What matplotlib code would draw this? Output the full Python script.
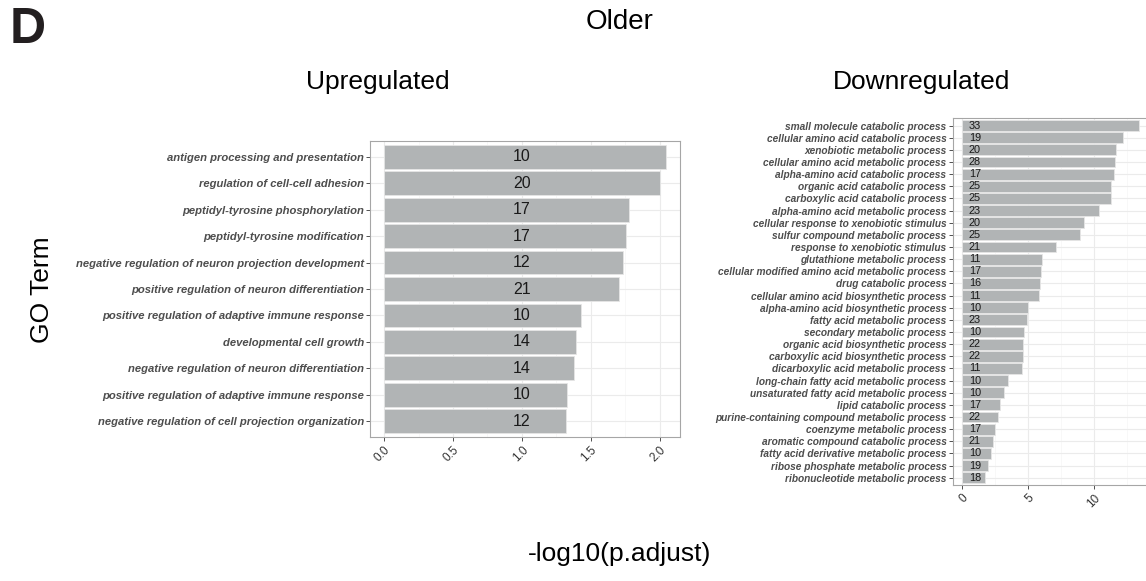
import numpy as np
import matplotlib
matplotlib.use("Agg")
import matplotlib.pyplot as plt
from matplotlib.ticker import MultipleLocator

plt.rcParams['font.family'] = ['Liberation Sans', 'DejaVu Sans']

# GO terms, -log10(p.adjust) and gene counts, top to bottom
up_terms = [
    "antigen processing and presentation",
    "regulation of cell-cell adhesion",
    "peptidyl-tyrosine phosphorylation",
    "peptidyl-tyrosine modification",
    "negative regulation of neuron projection development",
    "positive regulation of neuron differentiation",
    "positive regulation of adaptive immune response",
    "developmental cell growth",
    "negative regulation of neuron differentiation",
    "positive regulation of adaptive immune response",
    "negative regulation of cell projection organization",
]
up_vals = [2.045, 2.0, 1.779, 1.758, 1.731, 1.702, 1.430, 1.396, 1.379, 1.326, 1.319]
up_counts = [10, 20, 17, 17, 12, 21, 10, 14, 14, 10, 12]

down_terms = [
    "small molecule catabolic process",
    "cellular amino acid catabolic process",
    "xenobiotic metabolic process",
    "cellular amino acid metabolic process",
    "alpha-amino acid catabolic process",
    "organic acid catabolic process",
    "carboxylic acid catabolic process",
    "alpha-amino acid metabolic process",
    "cellular response to xenobiotic stimulus",
    "sulfur compound metabolic process",
    "response to xenobiotic stimulus",
    "glutathione metabolic process",
    "cellular modified amino acid metabolic process",
    "drug catabolic process",
    "cellular amino acid biosynthetic process",
    "alpha-amino acid biosynthetic process",
    "fatty acid metabolic process",
    "secondary metabolic process",
    "organic acid biosynthetic process",
    "carboxylic acid biosynthetic process",
    "dicarboxylic acid metabolic process",
    "long-chain fatty acid metabolic process",
    "unsaturated fatty acid metabolic process",
    "lipid catabolic process",
    "purine-containing compound metabolic process",
    "coenzyme metabolic process",
    "aromatic compound catabolic process",
    "fatty acid derivative metabolic process",
    "ribose phosphate metabolic process",
    "ribonucleotide metabolic process",
]
down_vals = [13.38, 12.18, 11.65, 11.53, 11.48, 11.25, 11.25, 10.38, 9.25, 8.95,
             7.09, 6.09, 5.99, 5.94, 5.86, 5.01, 4.91, 4.74, 4.64, 4.64,
             4.59, 3.48, 3.16, 2.86, 2.71, 2.51, 2.38, 2.23, 1.98, 1.78]
down_counts = [33, 19, 20, 28, 17, 25, 25, 23, 20, 25, 21, 11, 17, 16, 11,
               10, 23, 10, 22, 22, 11, 10, 10, 17, 22, 17, 21, 10, 19, 18]

BAR = '#b1b4b5'
GRID = '#ebebeb'
GRID_MINOR = '#f5f5f5'
BORDER = '#a6a6a6'
LABEL = '#4d4d4d'


def bar_panel(ax, terms, vals, counts, major, label_size, count_size, tick_size):
    n = len(terms)
    y = np.arange(n)
    ax.set_axisbelow(True)
    ax.barh(y, vals, height=0.9, color=BAR, edgecolor='#e6e6e6', linewidth=0.6)
    for yi, c in zip(y, counts):
        ax.text(1.0, yi, str(c), ha='center', va='center',
                fontsize=count_size, color='#1a1a1a')
    top = max(vals)
    pad = top * 0.05
    ax.set_xlim(-pad, top + pad)
    ax.set_ylim(n - 0.4, -0.6)
    ax.set_yticks(y)
    ax.set_yticklabels(terms, fontsize=label_size, fontweight='bold',
                       fontstyle='italic', color=LABEL)
    ax.xaxis.set_major_locator(MultipleLocator(major))
    ax.xaxis.set_minor_locator(MultipleLocator(major / 2))
    ax.grid(True, which='major', color=GRID, linewidth=0.8)
    ax.grid(True, which='minor', axis='x', color=GRID_MINOR, linewidth=0.5)
    ax.tick_params(axis='both', which='major', length=3, color='#333333', width=0.6)
    ax.tick_params(axis='y', pad=1.5)
    ax.tick_params(axis='x', which='minor', length=0)
    ax.tick_params(axis='x', labelsize=tick_size, labelcolor='#333333', pad=2)
    for lbl in ax.get_xticklabels():
        lbl.set_rotation(45)
        lbl.set_ha('right')
        lbl.set_va('top')
        lbl.set_rotation_mode('anchor')
    for s in ax.spines.values():
        s.set_color(BORDER)
        s.set_linewidth(0.8)


fig = plt.figure(figsize=(11.46, 5.81), dpi=100)

ax_up = fig.add_axes([370 / 1146, 144 / 581, 310 / 1146, 296 / 581])
bar_panel(ax_up, up_terms, up_vals, up_counts, 0.5, 8.1, 11.5, 8.5)
ax_up.xaxis.set_major_formatter(matplotlib.ticker.FormatStrFormatter('%.1f'))

ax_dn = fig.add_axes([952.7 / 1146, 96 / 581, 195.3 / 1146, 366.7 / 581])
bar_panel(ax_dn, down_terms, down_vals, down_counts, 5, 7.3, 7.8, 8.5)

fig.text(10 / 1146, 1 - 30 / 581, "D", fontsize=36, fontweight='bold',
         color='#231f20', ha='left', va='center')
fig.text(620 / 1146, 1 - 22 / 581, "Older", fontsize=20, ha='center', va='center')
fig.text(378 / 1146, 1 - 82 / 581, "Upregulated", fontsize=19, ha='center', va='center')
fig.text(922 / 1146, 1 - 82 / 581, "Downregulated", fontsize=19, ha='center', va='center')
fig.text(42 / 1146, 1 - 290 / 581, "GO Term", fontsize=19, rotation=90,
         ha='center', va='center')
fig.text(620 / 1146, 1 - 554 / 581, "-log10(p.adjust)", fontsize=19,
         ha='center', va='center')

fig.savefig("out.png", dpi=100)
